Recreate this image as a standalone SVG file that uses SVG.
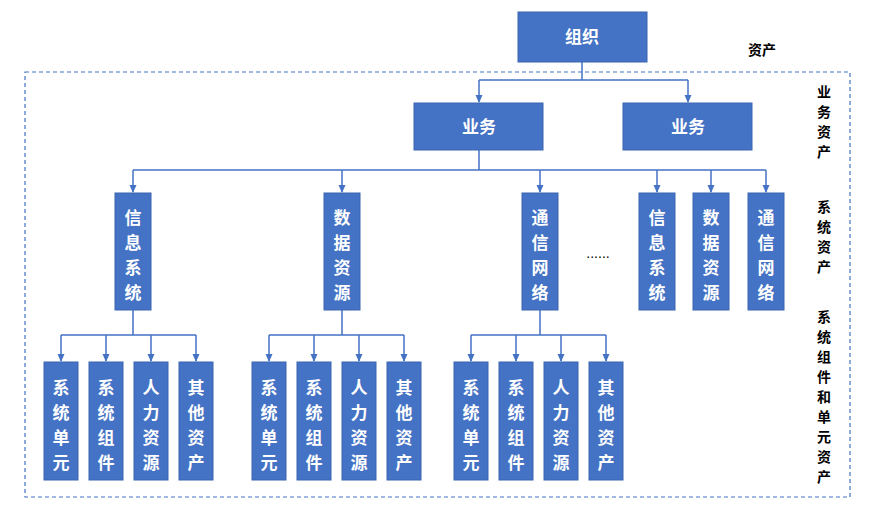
<svg xmlns="http://www.w3.org/2000/svg" width="875" height="519" viewBox="0 0 875 519">
<style>
.b{fill:#4472C4;stroke:#3A65B0;stroke-width:1}
.t{fill:#fff;font-family:"Noto Sans CJK SC",sans-serif;font-size:17px;font-weight:bold;text-anchor:middle}
.l{fill:#000;font-family:"Noto Sans CJK SC",sans-serif;font-size:14px;font-weight:bold;text-anchor:middle}
.c{fill:none;stroke:#4472C4;stroke-width:1.5}
</style>
<defs><marker id="a" markerWidth="8" markerHeight="8" refX="7" refY="4" orient="auto" markerUnits="userSpaceOnUse"><path d="M0,0.5 L8,4 L0,7.5 z" fill="#4472C4"/></marker></defs>
<rect x="0" y="0" width="875" height="519" fill="#fff"/>
<rect x="25" y="72" width="825" height="425" fill="none" stroke="#4472C4" stroke-width="1.2" stroke-dasharray="4,3"/>
<g id="connectors" class="c">
<path d="M582,62 V80 M479,80 H688"/>
<path d="M479,80 V102" marker-end="url(#a)"/><path d="M688,80 V102" marker-end="url(#a)"/>
<path d="M479,150 V170 M133,170 H766"/>
<path d="M133,170 V192" marker-end="url(#a)"/><path d="M342,170 V192" marker-end="url(#a)"/><path d="M540,170 V192" marker-end="url(#a)"/><path d="M657,170 V192" marker-end="url(#a)"/><path d="M711,170 V192" marker-end="url(#a)"/><path d="M766,170 V192" marker-end="url(#a)"/>
<path d="M133,310 V335 M61,335 H196"/>
<path d="M61,335 V361" marker-end="url(#a)"/><path d="M106,335 V361" marker-end="url(#a)"/><path d="M151,335 V361" marker-end="url(#a)"/><path d="M196,335 V361" marker-end="url(#a)"/>
<path d="M342,310 V335 M269,335 H404"/>
<path d="M269,335 V361" marker-end="url(#a)"/><path d="M314,335 V361" marker-end="url(#a)"/><path d="M359,335 V361" marker-end="url(#a)"/><path d="M404,335 V361" marker-end="url(#a)"/>
<path d="M540,310 V335 M471,335 H606"/>
<path d="M471,335 V361" marker-end="url(#a)"/><path d="M516,335 V361" marker-end="url(#a)"/><path d="M561,335 V361" marker-end="url(#a)"/><path d="M606,335 V361" marker-end="url(#a)"/>
</g>
<g id="org"><rect class="b" x="518" y="12" width="129" height="50"/><text class="t" x="582" y="43">组织</text></g>
<g id="biz1"><rect class="b" x="414" y="103" width="129" height="47"/><text class="t" x="479" y="133">业务</text></g>
<g id="biz2"><rect class="b" x="623" y="103" width="129" height="47"/><text class="t" x="688" y="133">业务</text></g>
<g id="sys1"><rect class="b" x="115" y="193" width="36" height="117"/><text class="t" x="133" y="224">信</text><text class="t" x="133" y="249">息</text><text class="t" x="133" y="274">系</text><text class="t" x="133" y="299">统</text></g>
<g id="sys2"><rect class="b" x="324" y="193" width="36" height="117"/><text class="t" x="342" y="224">数</text><text class="t" x="342" y="249">据</text><text class="t" x="342" y="274">资</text><text class="t" x="342" y="299">源</text></g>
<g id="sys3"><rect class="b" x="522" y="193" width="36" height="117"/><text class="t" x="540" y="224">通</text><text class="t" x="540" y="249">信</text><text class="t" x="540" y="274">网</text><text class="t" x="540" y="299">络</text></g>
<g id="sys4"><rect class="b" x="639" y="193" width="36" height="117"/><text class="t" x="657" y="224">信</text><text class="t" x="657" y="249">息</text><text class="t" x="657" y="274">系</text><text class="t" x="657" y="299">统</text></g>
<g id="sys5"><rect class="b" x="693" y="193" width="36" height="117"/><text class="t" x="711" y="224">数</text><text class="t" x="711" y="249">据</text><text class="t" x="711" y="274">资</text><text class="t" x="711" y="299">源</text></g>
<g id="sys6"><rect class="b" x="748" y="193" width="36" height="117"/><text class="t" x="766" y="224">通</text><text class="t" x="766" y="249">信</text><text class="t" x="766" y="274">网</text><text class="t" x="766" y="299">络</text></g>
<text x="598" y="258" font-family="Liberation Sans,sans-serif" font-size="14" text-anchor="middle">......</text>
<g id="g1a"><rect class="b" x="44" y="362" width="34" height="118"/><text class="t" x="61" y="394">系</text><text class="t" x="61" y="419">统</text><text class="t" x="61" y="444">单</text><text class="t" x="61" y="469">元</text></g>
<g id="g1b"><rect class="b" x="89" y="362" width="34" height="118"/><text class="t" x="106" y="394">系</text><text class="t" x="106" y="419">统</text><text class="t" x="106" y="444">组</text><text class="t" x="106" y="469">件</text></g>
<g id="g1c"><rect class="b" x="134" y="362" width="34" height="118"/><text class="t" x="151" y="394">人</text><text class="t" x="151" y="419">力</text><text class="t" x="151" y="444">资</text><text class="t" x="151" y="469">源</text></g>
<g id="g1d"><rect class="b" x="179" y="362" width="34" height="118"/><text class="t" x="196" y="394">其</text><text class="t" x="196" y="419">他</text><text class="t" x="196" y="444">资</text><text class="t" x="196" y="469">产</text></g>
<g id="g2a"><rect class="b" x="252" y="362" width="34" height="118"/><text class="t" x="269" y="394">系</text><text class="t" x="269" y="419">统</text><text class="t" x="269" y="444">单</text><text class="t" x="269" y="469">元</text></g>
<g id="g2b"><rect class="b" x="297" y="362" width="34" height="118"/><text class="t" x="314" y="394">系</text><text class="t" x="314" y="419">统</text><text class="t" x="314" y="444">组</text><text class="t" x="314" y="469">件</text></g>
<g id="g2c"><rect class="b" x="342" y="362" width="34" height="118"/><text class="t" x="359" y="394">人</text><text class="t" x="359" y="419">力</text><text class="t" x="359" y="444">资</text><text class="t" x="359" y="469">源</text></g>
<g id="g2d"><rect class="b" x="387" y="362" width="34" height="118"/><text class="t" x="404" y="394">其</text><text class="t" x="404" y="419">他</text><text class="t" x="404" y="444">资</text><text class="t" x="404" y="469">产</text></g>
<g id="g3a"><rect class="b" x="454" y="362" width="34" height="118"/><text class="t" x="471" y="394">系</text><text class="t" x="471" y="419">统</text><text class="t" x="471" y="444">单</text><text class="t" x="471" y="469">元</text></g>
<g id="g3b"><rect class="b" x="499" y="362" width="34" height="118"/><text class="t" x="516" y="394">系</text><text class="t" x="516" y="419">统</text><text class="t" x="516" y="444">组</text><text class="t" x="516" y="469">件</text></g>
<g id="g3c"><rect class="b" x="544" y="362" width="34" height="118"/><text class="t" x="561" y="394">人</text><text class="t" x="561" y="419">力</text><text class="t" x="561" y="444">资</text><text class="t" x="561" y="469">源</text></g>
<g id="g3d"><rect class="b" x="589" y="362" width="34" height="118"/><text class="t" x="606" y="394">其</text><text class="t" x="606" y="419">他</text><text class="t" x="606" y="444">资</text><text class="t" x="606" y="469">产</text></g>
<g id="labels">
<text class="l" x="762" y="55">资产</text>
<text class="l" x="824" y="97">业</text><text class="l" x="824" y="117">务</text><text class="l" x="824" y="137">资</text><text class="l" x="824" y="157">产</text>
<text class="l" x="824" y="212">系</text><text class="l" x="824" y="232">统</text><text class="l" x="824" y="252">资</text><text class="l" x="824" y="272">产</text>
<text class="l" x="824" y="322">系</text><text class="l" x="824" y="342">统</text><text class="l" x="824" y="362">组</text><text class="l" x="824" y="382">件</text><text class="l" x="824" y="402">和</text><text class="l" x="824" y="422">单</text><text class="l" x="824" y="442">元</text><text class="l" x="824" y="462">资</text><text class="l" x="824" y="482">产</text>
</g>
</svg>
